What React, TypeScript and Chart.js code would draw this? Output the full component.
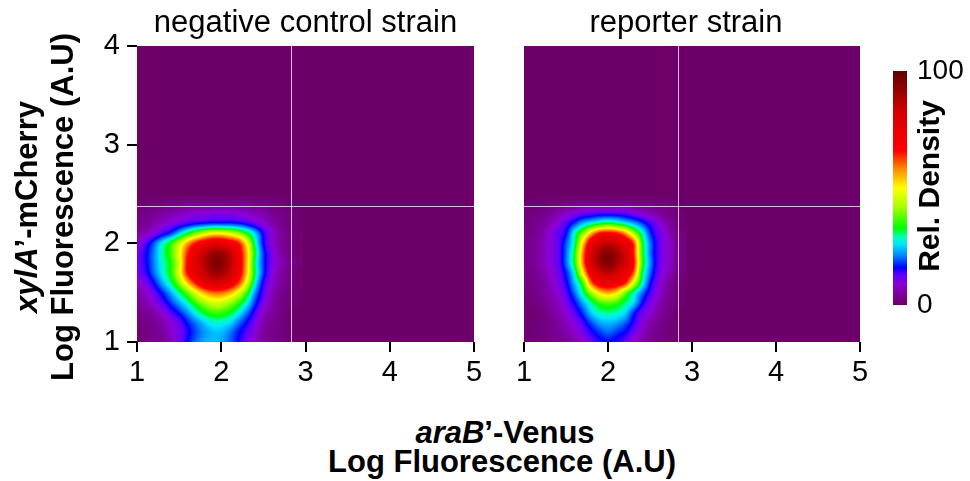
import React, { useEffect, useRef } from 'react';
import { Chart, registerables } from 'chart.js';

Chart.register(...registerables);

const FONT = "'Liberation Sans', Arial, Helvetica, sans-serif";

// Axis ticks
const xTicks = [1, 2, 3, 4, 5];
const yTicks = [1, 2, 3, 4];
const colorbarTicks = [0, 100];

// Panel titles
const panelTitles = ['negative control strain', 'reporter strain'];

// Quadrant gates (log fluorescence)
const gateX = 2.83;
const gateY = 2.38;

// Density grid coordinates (log fluorescence)
const gridX = [1.0, 1.1, 1.2, 1.3, 1.4, 1.5, 1.6, 1.7, 1.8, 1.9, 2.0, 2.1, 2.2, 2.3, 2.4, 2.5, 2.6, 2.7, 2.8, 2.9];
const gridY = [1.0, 1.1, 1.2, 1.3, 1.4, 1.5, 1.6, 1.7, 1.8, 1.9, 2.0, 2.1, 2.2, 2.3, 2.4, 2.5];

// Relative density (0-100), one row per gridY value (bottom to top)
const negativeControlDensity = [
  [1, 2, 3, 4, 7, 11, 16, 20, 23, 24, 23, 20, 16, 12, 8, 5, 3, 2, 1, 0],
  [1, 2, 3, 5, 8, 11, 15, 19, 22, 24, 24, 21, 17, 13, 9, 5, 3, 2, 1, 0],
  [2, 3, 4, 6, 9, 12, 17, 21, 25, 28, 28, 26, 21, 16, 11, 6, 4, 2, 1, 0],
  [3, 4, 6, 9, 13, 17, 22, 28, 33, 36, 36, 33, 28, 21, 14, 8, 5, 3, 1, 0],
  [4, 6, 9, 13, 18, 23, 29, 36, 42, 46, 46, 42, 36, 28, 18, 11, 6, 3, 2, 1],
  [5, 8, 12, 17, 23, 30, 38, 48, 56, 60, 60, 56, 48, 36, 22, 13, 7, 4, 2, 1],
  [8, 11, 16, 23, 30, 40, 54, 66, 76, 80, 80, 74, 64, 48, 28, 15, 9, 5, 3, 1],
  [11, 14, 20, 27, 34, 47, 66, 76, 84, 90, 90, 84, 72, 54, 32, 18, 10, 6, 3, 1],
  [12, 15, 21, 28, 34, 46, 67, 78, 87, 94, 94, 87, 74, 55, 31, 18, 11, 7, 4, 2],
  [11, 15, 21, 29, 36, 48, 64, 76, 85, 91, 91, 85, 72, 55, 33, 18, 11, 6, 3, 1],
  [9, 13, 19, 27, 34, 44, 56, 66, 72, 76, 76, 72, 66, 50, 30, 16, 9, 5, 3, 1],
  [5, 7, 10, 14, 18, 25, 33, 40, 46, 50, 50, 47, 42, 34, 25, 15, 9, 5, 3, 1],
  [3, 4, 6, 8, 10, 12, 14, 16, 17, 18, 18, 18, 17, 15, 12, 9, 6, 4, 2, 1],
  [2, 3, 4, 5, 6, 7, 8, 9, 9, 10, 10, 10, 9, 8, 7, 6, 4, 3, 2, 1],
  [1, 1, 2, 2, 3, 3, 4, 4, 4, 4, 4, 4, 4, 4, 3, 3, 2, 2, 1, 0],
  [0, 0, 0, 0, 0, 0, 0, 0, 0, 0, 0, 0, 0, 0, 0, 0, 0, 0, 0, 0],
];

const reporterDensity = [
  [1, 1, 1, 2, 3, 4, 6, 9, 12, 15, 16, 15, 13, 9, 6, 4, 2, 1, 1, 0],
  [1, 1, 2, 3, 4, 6, 8, 11, 15, 18, 20, 18, 16, 12, 8, 5, 3, 2, 1, 0],
  [1, 1, 2, 3, 5, 7, 10, 14, 19, 23, 24, 23, 20, 15, 10, 6, 4, 2, 1, 0],
  [1, 1, 2, 4, 6, 9, 13, 18, 25, 29, 30, 29, 26, 18, 12, 9, 5, 3, 1, 0],
  [1, 2, 3, 5, 7, 11, 16, 23, 30, 36, 38, 36, 31, 26, 17, 11, 7, 4, 2, 1],
  [2, 2, 4, 6, 9, 13, 20, 30, 42, 52, 56, 52, 40, 30, 21, 14, 9, 5, 2, 1],
  [2, 3, 4, 7, 10, 15, 24, 36, 60, 72, 74, 72, 66, 48, 30, 17, 10, 6, 3, 1],
  [2, 3, 5, 8, 11, 17, 28, 50, 72, 82, 86, 82, 74, 62, 34, 20, 12, 8, 4, 2],
  [3, 4, 6, 9, 12, 20, 33, 58, 80, 90, 95, 90, 82, 68, 38, 22, 13, 9, 5, 2],
  [3, 4, 6, 9, 12, 20, 33, 58, 80, 90, 94, 90, 82, 66, 37, 21, 13, 9, 5, 2],
  [3, 4, 6, 9, 12, 19, 30, 52, 74, 82, 85, 82, 76, 64, 36, 21, 13, 9, 5, 2],
  [2, 3, 5, 9, 12, 16, 28, 40, 55, 66, 68, 66, 58, 44, 30, 18, 12, 8, 4, 2],
  [2, 3, 4, 6, 9, 13, 18, 24, 28, 32, 34, 32, 28, 24, 19, 14, 10, 6, 3, 1],
  [1, 2, 3, 4, 6, 8, 10, 12, 13, 14, 14, 14, 13, 11, 9, 7, 5, 3, 2, 1],
  [1, 1, 1, 2, 2, 3, 3, 4, 4, 4, 4, 4, 4, 3, 3, 3, 2, 2, 1, 0],
  [0, 0, 0, 0, 0, 0, 0, 0, 0, 0, 0, 0, 0, 0, 0, 0, 0, 0, 0, 0],
];

// Colour scale stops: [relative density, rgb]
const colorStops: [number, number[]][] = [
  [0, [108, 0, 104]],
  [5, [125, 0, 160]],
  [9, [140, 0, 215]],
  [13, [90, 0, 255]],
  [16, [0, 0, 255]],
  [21, [0, 130, 255]],
  [26, [0, 230, 255]],
  [29, [0, 255, 180]],
  [33, [0, 255, 0]],
  [42, [170, 255, 0]],
  [50, [255, 255, 0]],
  [58, [255, 140, 0]],
  [66, [255, 0, 0]],
  [82, [215, 0, 0]],
  [100, [95, 0, 0]],
];

function colormap(v: number): number[] {
  if (v <= colorStops[0][0]) return colorStops[0][1];
  for (let i = 1; i < colorStops.length; i++) {
    const [v1, c1] = colorStops[i];
    if (v <= v1) {
      const [v0, c0] = colorStops[i - 1];
      const t = (v - v0) / (v1 - v0);
      return [c0[0] + (c1[0] - c0[0]) * t, c0[1] + (c1[1] - c0[1]) * t, c0[2] + (c1[2] - c0[2]) * t];
    }
  }
  return colorStops[colorStops.length - 1][1];
}

function cell(grid: number[][], j: number, i: number): number {
  if (j < 0) j = 0;
  if (i < 0) i = 0;
  if (j >= grid.length) return 0;
  const row = grid[j];
  if (i >= row.length) return 0;
  return row[i];
}

// Catmull-Rom weights for smooth shading between grid nodes
function crWeights(t: number): number[] {
  const t2 = t * t;
  const t3 = t2 * t;
  return [
    (-t3 + 2 * t2 - t) / 2,
    (3 * t3 - 5 * t2 + 2) / 2,
    (-3 * t3 + 4 * t2 + t) / 2,
    (t3 - t2) / 2,
  ];
}

function sampleDensity(grid: number[][], x: number, y: number): number {
  const dx = gridX[1] - gridX[0];
  const dy = gridY[1] - gridY[0];
  let fi = (x - gridX[0]) / dx;
  let fj = (y - gridY[0]) / dy;
  if (fi < 0) fi = 0;
  if (fj < 0) fj = 0;
  const i0 = Math.floor(fi);
  const j0 = Math.floor(fj);
  const wx = crWeights(fi - i0);
  const wy = crWeights(fj - j0);
  let v = 0;
  for (let b = 0; b < 4; b++) {
    let rowV = 0;
    for (let a = 0; a < 4; a++) rowV += wx[a] * cell(grid, j0 - 1 + b, i0 - 1 + a);
    v += wy[b] * rowV;
  }
  return Math.max(0, Math.min(100, v));
}

function makeHeatmapPlugin(grid: number[][]) {
  return {
    id: 'densityHeatmap',
    beforeDatasetsDraw(chart: any) {
      const { ctx, chartArea: a, scales } = chart;
      const xs = scales.x;
      const ys = scales.y;
      const left = Math.round(a.left);
      const top = Math.round(a.top);
      const w = Math.round(a.right) - left;
      const h = Math.round(a.bottom) - top;
      const img = ctx.createImageData(w, h);
      const xv: number[] = [];
      for (let px = 0; px < w; px++) xv.push(xs.getValueForPixel(left + px + 0.5));
      for (let py = 0; py < h; py++) {
        const yv = ys.getValueForPixel(top + py + 0.5);
        for (let px = 0; px < w; px++) {
          const c = colormap(sampleDensity(grid, xv[px], yv));
          const k = (py * w + px) * 4;
          img.data[k] = c[0];
          img.data[k + 1] = c[1];
          img.data[k + 2] = c[2];
          img.data[k + 3] = 255;
        }
      }
      ctx.putImageData(img, left, top);
      ctx.save();
      ctx.strokeStyle = 'rgba(255,255,255,0.75)';
      ctx.lineWidth = 1;
      const gx = Math.round(xs.getPixelForValue(gateX)) + 0.5;
      const gy = Math.round(ys.getPixelForValue(gateY)) + 0.5;
      ctx.beginPath();
      ctx.moveTo(gx, a.top);
      ctx.lineTo(gx, a.bottom);
      ctx.moveTo(a.left, gy);
      ctx.lineTo(a.right, gy);
      ctx.stroke();
      ctx.restore();
    },
  };
}

const colorbarPlugin = {
  id: 'colorbar',
  beforeDatasetsDraw(chart: any) {
    const { ctx, chartArea: a, scales } = chart;
    const ys = scales.y;
    const y0 = ys.getPixelForValue(colorbarTicks[0]);
    const y1 = ys.getPixelForValue(colorbarTicks[1]);
    const g = ctx.createLinearGradient(0, y0, 0, y1);
    for (const [v, c] of colorStops) {
      g.addColorStop(v / 100, `rgb(${c[0]},${c[1]},${c[2]})`);
    }
    ctx.save();
    ctx.fillStyle = g;
    ctx.fillRect(a.left, y1, a.right - a.left, y0 - y1);
    ctx.restore();
  },
};

function tickGrid() {
  return {
    display: true,
    drawOnChartArea: false,
    drawTicks: true,
    tickLength: 10,
    color: '#000',
    lineWidth: 2,
  };
}

function panelConfig(grid: number[][], showY: boolean, padLeft: number, padRight: number): any {
  return {
    type: 'scatter',
    data: { datasets: [{ data: [] }] },
    options: {
      responsive: false,
      animation: false,
      events: [],
      layout: { padding: { left: padLeft, right: padRight, top: 46, bottom: 0 } },
      plugins: { legend: { display: false }, tooltip: { enabled: false }, title: { display: false } },
      scales: {
        x: {
          type: 'linear',
          min: xTicks[0],
          max: xTicks[xTicks.length - 1],
          afterBuildTicks: (s: any) => {
            s.ticks = xTicks.map((v) => ({ value: v }));
          },
          afterFit: (s: any) => {
            s.height = 58;
          },
          grid: tickGrid(),
          border: { display: false },
          ticks: { font: { family: FONT, size: 29 }, color: '#000', padding: 4, maxRotation: 0, autoSkip: false },
        },
        y: {
          type: 'linear',
          display: showY,
          min: yTicks[0],
          max: yTicks[yTicks.length - 1],
          afterBuildTicks: (s: any) => {
            s.ticks = yTicks.map((v) => ({ value: v }));
          },
          afterFit: (s: any) => {
            s.width = showY ? 137 : 0;
          },
          grid: tickGrid(),
          border: { display: false },
          ticks: { font: { family: FONT, size: 29 }, color: '#000', padding: 7, autoSkip: false },
        },
      },
    },
    plugins: [makeHeatmapPlugin(grid)],
  };
}

function colorbarConfig(): any {
  return {
    type: 'scatter',
    data: { datasets: [{ data: [] }] },
    options: {
      responsive: false,
      animation: false,
      events: [],
      layout: { padding: { left: 33, right: 0, top: 71, bottom: 95 } },
      plugins: { legend: { display: false }, tooltip: { enabled: false } },
      scales: {
        x: { type: 'linear', display: false, min: 0, max: 1 },
        y: {
          type: 'linear',
          position: 'right',
          min: colorbarTicks[0],
          max: colorbarTicks[1],
          afterBuildTicks: (s: any) => {
            s.ticks = colorbarTicks.map((v) => ({ value: v }));
          },
          afterFit: (s: any) => {
            s.width = 63;
          },
          grid: { display: false, drawTicks: false },
          border: { display: false },
          ticks: { font: { family: FONT, size: 28 }, color: '#000', padding: 10, autoSkip: false },
        },
      },
    },
    plugins: [colorbarPlugin],
  };
}

export default function App() {
  const leftRef = useRef<HTMLCanvasElement>(null);
  const rightRef = useRef<HTMLCanvasElement>(null);
  const barRef = useRef<HTMLCanvasElement>(null);

  useEffect(() => {
    const charts: Chart[] = [];
    if (leftRef.current) charts.push(new Chart(leftRef.current, panelConfig(negativeControlDensity, true, 0, 16)));
    if (rightRef.current) charts.push(new Chart(rightRef.current, panelConfig(reporterDensity, false, 24, 20)));
    if (barRef.current) charts.push(new Chart(barRef.current, colorbarConfig()));
    return () => {
      charts.forEach((c) => c.destroy());
    };
  }, []);

  const titleStyle = (left: number, width: number): React.CSSProperties => ({
    position: 'absolute',
    left,
    top: 6,
    width,
    height: 31,
    lineHeight: '31px',
    fontSize: 31,
    fontFamily: FONT,
    textAlign: 'center',
    color: '#000',
    whiteSpace: 'nowrap',
  });

  const bold: React.CSSProperties = { fontFamily: FONT, fontWeight: 'bold', fontSize: 31, color: '#000', whiteSpace: 'nowrap' };

  return (
    <div style={{ position: 'absolute', left: 0, top: 0, width: 970, height: 481, background: '#fff', overflow: 'hidden' }}>
      <canvas ref={leftRef} width={490} height={400} style={{ position: 'absolute', left: 0, top: 0 }} />
      <canvas ref={rightRef} width={380} height={400} style={{ position: 'absolute', left: 500, top: 0 }} />
      <canvas ref={barRef} width={110} height={400} style={{ position: 'absolute', left: 860, top: 0 }} />

      <div style={titleStyle(137, 337)}>{panelTitles[0]}</div>
      <div style={titleStyle(518, 336)}>{panelTitles[1]}</div>

      <div
        style={{
          ...bold,
          position: 'absolute',
          left: 45 - 200,
          top: 207 - 36,
          width: 400,
          height: 72,
          lineHeight: '36px',
          textAlign: 'center',
          transform: 'rotate(-90deg)',
        }}
      >
        <div>
          <i>xylA</i>’-mCherry
        </div>
        <div>Log Fluorescence (A.U)</div>
      </div>

      <div style={{ ...bold, position: 'absolute', left: 305, top: 417, width: 400, height: 31, lineHeight: '31px', textAlign: 'center' }}>
        <i>araB</i>’-Venus
      </div>
      <div style={{ ...bold, position: 'absolute', left: 302, top: 446, width: 400, height: 31, lineHeight: '31px', textAlign: 'center' }}>
        Log Fluorescence (A.U)
      </div>

      <div
        style={{
          ...bold,
          fontSize: 30,
          position: 'absolute',
          left: 929 - 150,
          top: 186 - 15,
          width: 300,
          height: 30,
          lineHeight: '30px',
          textAlign: 'center',
          transform: 'rotate(-90deg)',
        }}
      >
        Rel. Density
      </div>
    </div>
  );
}
